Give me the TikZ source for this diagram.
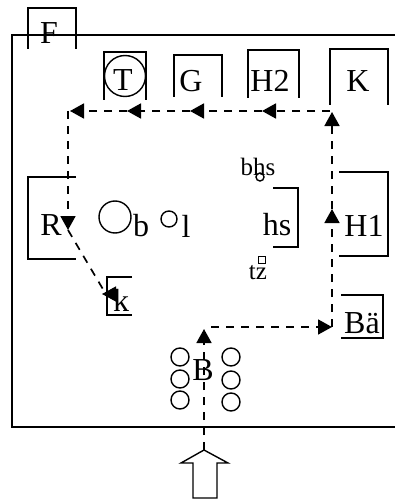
\documentclass[tikz,border=0pt]{standalone}
\usepackage{fontspec}
\setmainfont{Liberation Serif}
\usetikzlibrary{arrows.meta}

\begin{document}
\begin{tikzpicture}[
    x=1pt, y=-1pt,
    wall/.style={draw, line width=1.4pt},
    label/.style={inner sep=0pt, font=\fontsize{32}{32}\selectfont},
    small/.style={inner sep=0pt, font=\fontsize{25}{25}\selectfont},
    spot/.style={draw, circle, line width=1.4pt, inner sep=0pt, minimum size=#1},
    flow/.style={line width=1.7pt, dash pattern=on 8pt off 7pt},
    head/.style={-{Triangle[length=14pt,width=15pt]}, flow}
]
    \useasboundingbox (0,0) rectangle (395,500);

    % Rahmen
    \draw[wall] (395,35) -- (12,35) -- (12,427) -- (395,427);

    % Stationen
    \node[label] (f) at (49,33) {F};
    \draw[wall] (28,49) -- (28,8) -- (76,8) -- (76,49);
    \node[label] (t) at (123,80) {T};
    \draw[wall] (104,100) -- (104,52) -- (146,52) -- (146,100);
    \node[spot=41pt] (tring) at (125,76) {};
    \node[label] (g) at (191,81) {G};
    \draw[wall] (174,97) -- (174,55) -- (222,55) -- (222,97);
    \node[label] (h2) at (270,81) {H2};
    \draw[wall] (248,98) -- (248,50) -- (299,50) -- (299,98);
    \node[label] (kk) at (358,81) {K};
    \draw[wall] (330,105) -- (330,49) -- (388,49) -- (388,105);

    \node[label] (r) at (51,225) {R};
    \draw[wall] (76,177) -- (28,177) -- (28,259) -- (76,259);
    \node[spot=32pt] (bring) at (115,217) {};
    \node[label] (b) at (141,226) {b};
    \node[spot=16pt] (lring) at (169,219) {};
    \node[label] (l) at (186,226) {l};
    \node[small] (bhs) at (258,167) {bhs};
    \node[spot=8pt] (bhsring) at (260,177) {};
    \node[label] (hs) at (277,225) {hs};
    \draw[wall] (273,188) -- (298,188) -- (298,247) -- (273,247);
    \node[small] (tz) at (258,273) {tz};
    \node[draw, line width=1.4pt, inner sep=0pt, minimum size=7pt] (tzbox) at (262,260) {};
    \node[label] (h1) at (364,226) {H1};
    \draw[wall] (339,172) -- (388,172) -- (388,256) -- (339,256);
    \node[label] (k) at (121,300) {k};
    \draw[wall] (132,277) -- (107,277) -- (107,315) -- (132,315);
    \node[label] (bae) at (362,323) {Bä};
    \draw[wall] (341,295) -- (383,295) -- (383,338) -- (341,338);
    \node[label] (bb) at (203,370) {B};

    % Kreise am Eingang
    \foreach \y [count=\i] in {357,379,400}
        \node[spot=18pt] (bl\i) at (180,\y) {};
    \foreach \y [count=\i] in {357,380,402}
        \node[spot=18pt] (br\i) at (231,\y) {};

    % Eingangspfeil
    \coordinate (in) at (204,450);
    \draw[wall, line join=miter] (in) -- (228,463) -- (217,463) -- (217,498)
        -- (193,498) -- (193,463) -- (181,463) -- cycle;

    % Weg
    \coordinate (p1) at (204,329);
    \coordinate (p2) at (211,327);
    \coordinate (p3) at (332,327);
    \coordinate (p4) at (332,209);
    \coordinate (p5) at (332,112);
    \coordinate (p6) at (330,111);
    \coordinate (p7) at (262,111);
    \coordinate (p8) at (190,111);
    \coordinate (p9) at (127,111);
    \coordinate (p10) at (70,111);
    \coordinate (p11) at (68,111);
    \coordinate (p12) at (68,230);
    \coordinate (p13) at (107,296);
    \coordinate (p14) at (116,294);
    \coordinate (p15) at (102,294);

    \draw[head] (in) -- (p1);
    \draw[head] (p2) -- (p3);
    \draw[head] (p3) -- (p4);
    \draw[head] (p4) -- (p5);
    \draw[head] (p6) -- (p7);
    \draw[head] (p7) -- (p8);
    \draw[head] (p8) -- (p9);
    \draw[head] (p9) -- (p10);
    \draw[head] (p11) -- (p12);
    \draw[flow] (p12) -- (p13);
    \draw[-{Triangle[length=14pt,width=15pt]}, line width=1.4pt] (p14) -- (p15);
\end{tikzpicture}
\end{document}
